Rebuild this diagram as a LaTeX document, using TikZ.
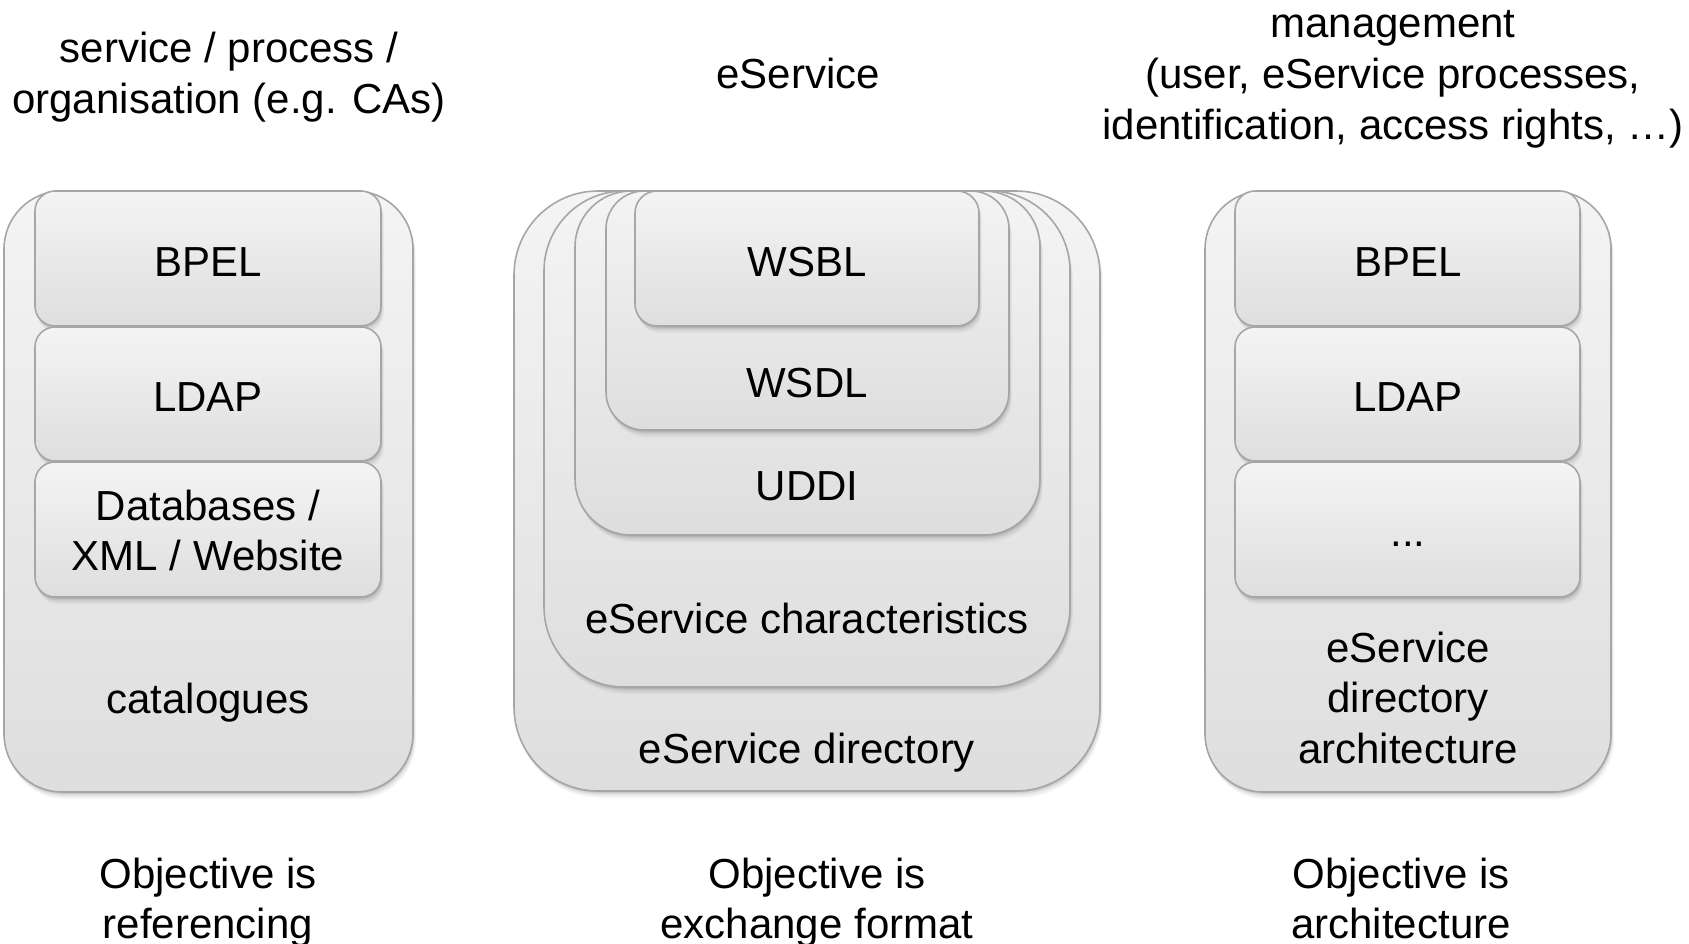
\documentclass[tikz,border=0pt]{standalone}
\usepackage{fontspec}
\setmainfont{Liberation Sans}
\definecolor{edgec}{RGB}{166,166,166}
\definecolor{topc}{RGB}{244,244,244}
\definecolor{botc}{RGB}{222,222,222}
\tikzset{
  panel/.style={draw=edgec, line width=0.8pt, top color=topc, bottom color=botc},
  lbl/.style={anchor=base, inner sep=0pt, align=center, font=\fontsize{21}{25.3}\selectfont},
}
% #1 x1, #2 y1, #3 x2, #4 y2 (pixels), #5 corner radius in pt
\newcommand\layerbox[5]{%
  \foreach \s/\o in {7/0.035,5/0.05,3/0.07,1.5/0.09}{%
    \fill[black, opacity=\o, rounded corners=#5] (#1+0.4*\s,#2+\s) rectangle (#3+0.4*\s,#4+\s);
  }%
  \path[panel, rounded corners=#5] (#1,#2) rectangle (#3,#4);
}
\begin{document}
\begin{tikzpicture}[x=0.5pt,y=-0.5pt]
\useasboundingbox (0,0) rectangle (1689,943);
\fill[white] (0,0) rectangle (1689,943);

% ---------- left column ----------
\layerbox{4}{191}{413}{792}{29pt}
\layerbox{35}{191}{381}{326}{10pt}
\layerbox{35}{327}{381}{461}{10pt}
\layerbox{35}{462}{381}{597}{10pt}

% ---------- middle column ----------
\layerbox{514}{191}{1100}{791}{42pt}
\layerbox{544}{191}{1070}{687}{40pt}
\layerbox{575}{191}{1040}{535}{28pt}
\layerbox{606}{191}{1009}{430}{19pt}
\layerbox{635}{191}{979}{326}{11pt}

% ---------- right column ----------
\layerbox{1205}{191}{1611}{792}{29pt}
\layerbox{1235}{191}{1580}{326}{10pt}
\layerbox{1235}{327}{1580}{461}{10pt}
\layerbox{1235}{462}{1580}{597}{10pt}

% ---------- titles (base = baseline of last line) ----------
\node[lbl] (titleL) at (229,113) {service / process /\\organisation (e.g. CAs)};
\node[lbl] (titleM) at (798,88) {eService};
\node[lbl] (titleR) at (1393,139) {management\\(user, eService processes,\\identification, access rights, …)};

% ---------- left labels ----------
\node[lbl] (bpelL) at (208,276.5) {BPEL};
\node[lbl] (ldapL) at (208,411.5) {LDAP};
\node[lbl] (dbL) at (208,570.6) {Databases /\\XML / Website};
\node[lbl] (catL) at (208,713) {catalogues};

% ---------- middle labels ----------
\node[lbl] (wsbl) at (807,276) {WSBL};
\node[lbl] (wsdl) at (807,397) {WSDL};
\node[lbl] (uddi) at (807,500) {UDDI};
\node[lbl] (chars) at (807,633) {eService characteristics};
\node[lbl] (dir) at (807,763) {eService directory};

% ---------- right labels ----------
\node[lbl] (bpelR) at (1408,276.5) {BPEL};
\node[lbl] (ldapR) at (1408,411.5) {LDAP};
\node[lbl] (dotsR) at (1408,546) {...};
\node[lbl] (archR) at (1408,763.2) {eService\\directory\\architecture};

% ---------- objectives ----------
\node[lbl] (objL) at (208,938.6) {Objective is\\referencing};
\node[lbl] (objM) at (817,938.6) {Objective is\\exchange format};
\node[lbl] (objR) at (1401,938.6) {Objective is\\architecture};
\end{tikzpicture}
\end{document}
